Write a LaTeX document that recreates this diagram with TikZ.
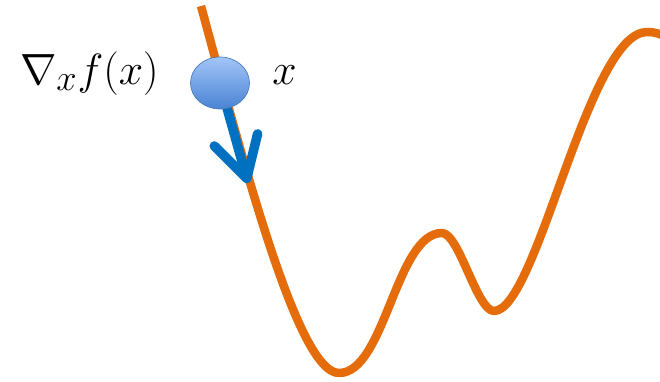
\documentclass[tikz,border=0pt]{standalone}
\usepackage{amsmath}
\usepackage{amssymb}
\usepackage{tikz}
\usetikzlibrary{arrows.meta}
\usetikzlibrary{shapes.geometric}
\usepackage{xcolor}
\definecolor{lossorange}{HTML}{E46C0A}
\definecolor{gradblue}{HTML}{0070C0}
\definecolor{balltop}{HTML}{A2C5F8}
\definecolor{ballbottom}{HTML}{4A83D3}
\definecolor{ballrim}{HTML}{4A7EBB}

\begin{document}
\begin{tikzpicture}[x=0.02cm, y=-0.02cm,
        loss/.style={line width=0.17cm, color=lossorange, line join=round},
        ball/.style={ellipse, draw=ballrim, thin, top color=balltop, bottom color=ballbottom,
            minimum width=1.18cm, minimum height=1.04cm, inner sep=0pt},
        grad/.style={line width=0.19cm, color=gradblue, line cap=round,
            -{Straight Barb[length=8mm, width=9mm, line cap=round, line join=round]}},
        mathlabel/.style={inner sep=0pt, font=\fontsize{28}{33}\selectfont}
    ]
        \useasboundingbox (0,0) rectangle (660,382);

        % Loss curve
        \draw[loss] (201,6) .. controls (247,176) and (299,373) .. (339,373)
            .. controls (385,373) and (396,233) .. (442,233)
            .. controls (459,233) and (477,311) .. (494,311)
            .. controls (537,311) and (588,32) .. (647,32)
            .. controls (655,32) and (660,34) .. (664,36);

        % Gradient step
        \coordinate (ballc) at (220,83);
        \coordinate (tip) at (248,183);
        \draw[grad] (ballc) -- (tip);

        % Nodes
        \node[ball] (ball) at (ballc) {};
        \node[mathlabel, anchor=base east] (gradlabel) at (159,84) {$\nabla_x f(x)$};
        \node[mathlabel, anchor=base west] (xlabel) at (272,84) {$x$};
\end{tikzpicture}
\end{document}
